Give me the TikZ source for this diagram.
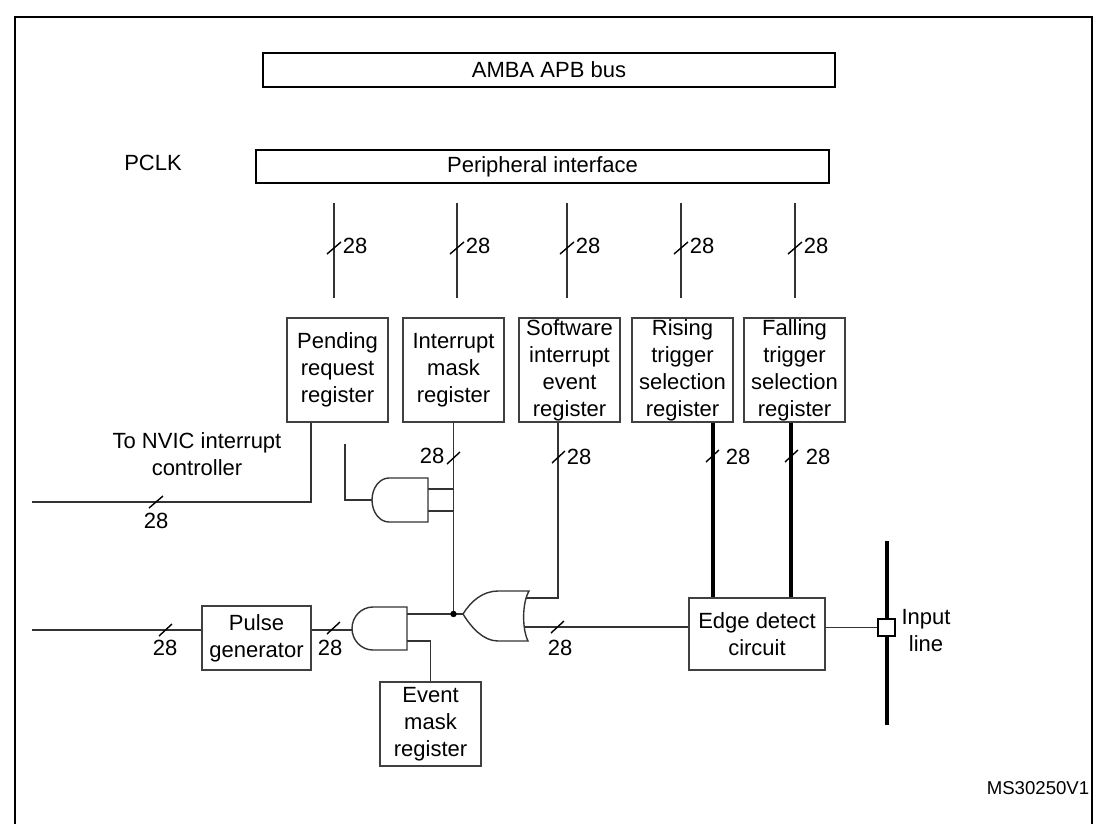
\documentclass[tikz,border=0pt]{standalone}
\usepackage{fontspec}
\setmainfont{Liberation Sans}
\usetikzlibrary{calc}
\newcommand\lbl{\fontsize{11}{13.5}\selectfont}
\begin{document}
\begin{tikzpicture}[x=0.5pt,y=-0.5pt,
  wire/.style={draw=black!80,line width=0.7pt},
  heavy/.style={draw=black,line width=1.6pt},
  box/.style={draw=black!75,line width=0.75pt,inner sep=0pt,align=center,font=\lbl},
  reg/.style={box,minimum width=50.5pt,minimum height=52pt},
  busbox/.style={draw=black,line width=1.1pt,inner sep=0pt,font=\lbl},
  lab/.style={inner sep=0pt,font=\lbl,align=center},
  slash/.style={draw=black,line width=0.7pt}]

\useasboundingbox (0,0) rectangle (1095,824);
\fill[white] (0,0) rectangle (1095,824);
\draw[line width=1.2pt] (15,824) -- (15,17) -- (1092,17) -- (1092,824);

% bus boxes
\node[busbox,minimum width=286pt,minimum height=17pt] (amba) at (549,70) {AMBA APB bus};
\node[busbox,minimum width=286.5pt,minimum height=16.5pt] (periph) at (542.5,166.5) {Peripheral interface};
\node[lab] (pclk) at (153,163) {PCLK};

\foreach \i/\x in {1/334,2/457,3/567,4/681,5/795}{
  \coordinate (bt\i) at (\x,203);
  \coordinate (bb\i) at (\x,298);
  \draw[wire] (bt\i) -- (bb\i);
  \draw[slash] (\x-7,254) -- (\x+7,242);
  \node[lab] (bl\i) at (\x+21,246) {28};
}

% registers
\node[reg] (pending) at (337.5,370) {Pending\\request\\register};
\node[reg] (imask) at (453.5,370) {Interrupt\\mask\\register};
\node[reg] (swi) at (569.5,370) {Software\\interrupt\\event\\register};
\node[reg] (rising) at (682.5,370) {Rising\\trigger\\selection\\register};
\node[reg] (falling) at (794.5,370) {Falling\\trigger\\selection\\register};

\node[lab] (nvic) at (197,454.5) {To NVIC interrupt\\controller};

\node[box,minimum width=54.5pt,minimum height=32pt] (pulse) at (256.5,638) {Pulse\\generator};
\node[box,minimum width=50.5pt,minimum height=42pt] (event) at (430.5,724) {Event\\mask\\register};
\node[box,minimum width=68pt,minimum height=36pt] (edge) at (757,634) {Edge detect\\circuit};

% input line
\coordinate (inT) at (887,541);
\coordinate (inB) at (887,725);
\draw[line width=2pt] (inT) -- (inB);
\node[draw=black,line width=0.9pt,fill=white,minimum size=8.5pt,inner sep=0pt] (sq) at (886.5,627.5) {};
\node[lab] (inlbl) at (926,630.5) {Input\\line};

% gate 1 (AND)
\draw[wire] (428,478) -- (389,478) .. controls (379.6,478) and (372,487.85) .. (372,500)
  .. controls (372,512.15) and (379.6,522) .. (389,522) -- (428,522) -- cycle;
\coordinate (g1a) at (428,489);
\coordinate (g1b) at (428,511);
\coordinate (g1o) at (372,500);
\coordinate (g1e) at (345,444);

% gate 2 (AND)
\draw[wire] (407,607) -- (373,607) .. controls (361.4,607) and (352,616.6) .. (352,628.5)
  .. controls (352,640.4) and (361.4,650) .. (373,650) -- (407,650) -- cycle;
\coordinate (g2o) at (407,614);
\coordinate (g2b) at (407,641);
\coordinate (g2i) at (352,630);

% OR gate
\draw[wire] (463,614) .. controls (471,601) and (483,591) .. (498,591) -- (529,591)
  .. controls (522,603) and (522,629) .. (528,641) -- (498,641)
  .. controls (483,641) and (471,627) .. (463,614) -- cycle;
\coordinate (or1) at (526,598);
\coordinate (or2) at (524,627);
\coordinate (orout) at (463,614);

\coordinate (junc) at (453.5,614);

% connections
\coordinate (nvicend) at (32,502);
\draw[wire] ([xshift=-13.25pt]pending.south) |- (nvicend);
\draw[slash] (149,508) -- (163,496);
\node[lab] (l1) at (156,521) {28};

\draw[wire] (imask.south) -- (junc);
\draw[slash] (447,464) -- (460,452);
\node[lab] (l2) at (432,456) {28};

\draw[wire] (g1a) -- (g1a -| junc);
\draw[wire] (g1b) -- (g1b -| junc);
\draw[wire] (g1o) -| (g1e);

\draw[wire] ([xshift=-5.75pt]swi.south) |- (or1);
\draw[slash] (552,463) -- (565,451);
\node[lab] (l3) at (579,457) {28};

\coordinate (rs) at ([xshift=15.25pt]rising.south);
\draw[heavy] (rs) -- (rs |- edge.north);
\draw[slash] (706,462) -- (719,450);
\node[lab] (l4) at (738,457) {28};

\coordinate (fs) at ([xshift=-1.75pt]falling.south);
\draw[heavy] (fs) -- (fs |- edge.north);
\draw[slash] (785,462) -- (798,450);
\node[lab] (l5) at (818,457) {28};

\draw[wire] (orout) -- (junc) -- (g2o);
\fill (junc) circle[radius=1.6pt];
\draw[wire] (g2b) -| (event.north);

\draw[wire] (pulse.east |- g2i) -- (g2i);
\draw[slash] (327,634) -- (340,622);
\node[lab] (l6) at (330,648) {28};

\coordinate (pin) at (32,630);
\draw[wire] (pin) -- (pin -| pulse.west);
\draw[slash] (159,636) -- (172,624);
\node[lab] (l7) at (165,648) {28};

\draw[wire] (or2) -- (or2 -| edge.west);
\draw[slash] (551,633) -- (564,621);
\node[lab] (l8) at (560,648) {28};

\draw[wire] (sq.west -| edge.east) -- (sq.west);

\node[lab,font=\fontsize{9.3}{11}\selectfont] (ms) at (1038,788) {MS30250V1};
\end{tikzpicture}
\end{document}
